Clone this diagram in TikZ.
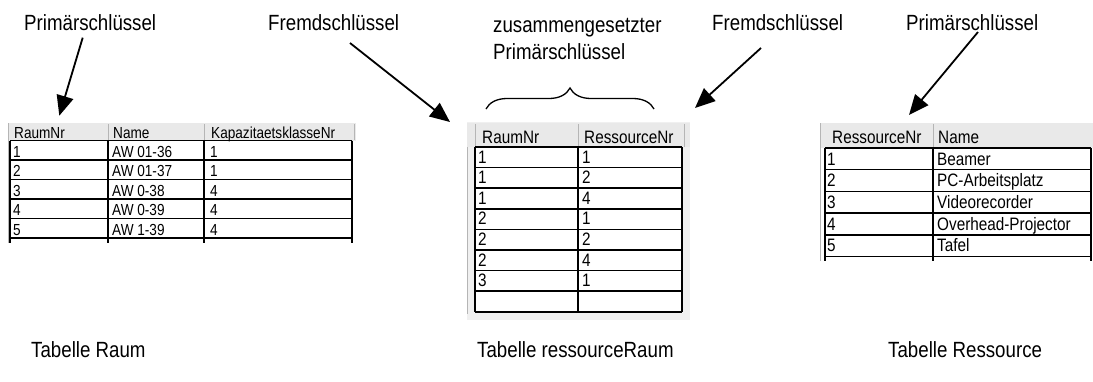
\documentclass[tikz,border=0pt]{standalone}
\usepackage{fontspec}
\setmainfont[FakeStretch=0.85]{Liberation Sans}
\usetikzlibrary{arrows.meta,decorations.pathreplacing}
\definecolor{hdrgray}{HTML}{E9E9E9}
\definecolor{panelgray}{HTML}{F0F0F0}
\definecolor{sepgray}{HTML}{B5B5B5}
\tikzset{
  lab/.style={anchor=base west, inner sep=0pt, font=\fontsize{22}{26}\selectfont},
  ctxtS/.style={anchor=base west, inner sep=0pt, font=\fontsize{16}{19}\selectfont},
  ctxtL/.style={anchor=base west, inner sep=0pt, font=\fontsize{18}{21}\selectfont},
  gridline/.style={draw=black, line width=1.5pt},
  hdrsep/.style={draw=sepgray, line width=0.8pt},
  keyarrow/.style={line width=1.8pt, -{Triangle[length=20pt,width=17pt]}},
  keybrace/.style={decorate, decoration={brace, amplitude=21pt}, line width=1.3pt},
}
\begin{document}
\begin{tikzpicture}[x=1pt,y=-1pt]
\useasboundingbox (0,0) rectangle (1093,381);

% ---------- labels ----------
\node[lab] (pk1) at (24,30) {Primärschlüssel};
\node[lab] (fk1) at (268,30) {Fremdschlüssel};
\node[lab] (cpk1) at (493,32) {zusammengesetzter};
\node[lab] (cpk2) at (493,59) {Primärschlüssel};
\node[lab] (fk2) at (712,30) {Fremdschlüssel};
\node[lab] (pk2) at (906,30) {Primärschlüssel};
\node[lab] (t1) at (31,357) {Tabelle Raum};
\node[lab] (t2) at (477,357) {Tabelle ressourceRaum};
\node[lab] (t3) at (888,357) {Tabelle Ressource};

% ---------- table Raum ----------
\fill[hdrgray] (8,123) rectangle (356,140.5);
\draw[hdrsep] (8,123) -- (8,243);
\draw[hdrsep] (108,124) -- (108,140);
\draw[hdrsep] (204,124) -- (204,140);
\draw[hdrsep] (354,124) -- (354,140);
\foreach \k in {0,...,5} \draw[gridline] (10,140.5+19.5*\k) -- (352,140.5+19.5*\k);
\foreach \xx in {10,108,204,352} \draw[gridline] (\xx,140.5) -- (\xx,243);
\node[ctxtS] (LH1) at (14,138) {RaumNr};
\node[ctxtS] (LH2) at (113,138) {Name};
\node[ctxtS] (LH3) at (211,138) {KapazitaetsklasseNr};
\foreach \i/\a/\b/\c in {1/1/AW 01-36/1, 2/2/AW 01-37/1, 3/3/AW 0-38/4, 4/4/AW 0-39/4, 5/5/AW 1-39/4}{
  \node[ctxtS] (L\i a) at (13,157+19.5*\i-19.5) {\a};
  \node[ctxtS] (L\i b) at (112,157+19.5*\i-19.5) {\b};
  \node[ctxtS] (L\i c) at (210,157+19.5*\i-19.5) {\c};
}

% ---------- table ressourceRaum ----------
\fill[panelgray] (467,122) rectangle (690,320);
\fill[hdrgray] (467,123) rectangle (690,147);
\draw[hdrsep] (475,124) -- (475,147);
\draw[hdrsep] (578,124) -- (578,147);
\draw[hdrsep] (684,124) -- (684,147);
\draw[hdrsep] (467,147) -- (467,314);
\fill[white] (475,147) rectangle (682,312);
\foreach \k in {0,...,8} \draw[gridline] (475,147+20.6*\k) -- (682,147+20.6*\k);
\foreach \xx in {475,578,682} \draw[gridline] (\xx,147) -- (\xx,311.8);
\node[ctxtL] (MH1) at (482,143) {RaumNr};
\node[ctxtL] (MH2) at (584,143) {RessourceNr};
\foreach \i/\a/\b in {1/1/1, 2/1/2, 3/1/4, 4/2/1, 5/2/2, 6/2/4, 7/3/1}{
  \node[ctxtL] (M\i a) at (478,163+20.6*\i-20.6) {\a};
  \node[ctxtL] (M\i b) at (582,163+20.6*\i-20.6) {\b};
}

% ---------- table Ressource ----------
\fill[hdrgray] (820,123) rectangle (1093,148);
\draw[hdrsep] (820,123) -- (820,261);
\draw[hdrsep] (933,124) -- (933,148);
\foreach \k in {0,...,5} \draw[gridline] (825,148+21.7*\k) -- (1091,148+21.7*\k);
\foreach \xx in {825,933,1091} \draw[gridline] (\xx,148) -- (\xx,261);
\node[ctxtL] (RH1) at (832,143) {RessourceNr};
\node[ctxtL] (RH2) at (938,143) {Name};
\foreach \i/\a/\b in {1/1/Beamer, 2/2/PC-Arbeitsplatz, 3/3/Videorecorder, 4/4/Overhead-Projector, 5/5/Tafel}{
  \node[ctxtL] (R\i a) at (827,165+21.7*\i-21.7) {\a};
  \node[ctxtL] (R\i b) at (937,165+21.7*\i-21.7) {\b};
}

% ---------- arrows ----------
\coordinate (a1s) at (82.7,37.7);  \coordinate (a1e) at (59.3,115.7);
\coordinate (a2s) at (350,43);     \coordinate (a2e) at (450,122);
\coordinate (a3s) at (761,48);     \coordinate (a3e) at (695,108);
\coordinate (a4s) at (978,32);     \coordinate (a4e) at (909,115);
\draw[keyarrow] (a1s) -- (a1e);
\draw[keyarrow] (a2s) -- (a2e);
\draw[keyarrow] (a3s) -- (a3e);
\draw[keyarrow] (a4s) -- (a4e);

% ---------- brace ----------
\coordinate (bl) at (486,109);
\coordinate (br) at (654,109);
\draw[keybrace] (bl) -- (br);
\end{tikzpicture}
\end{document}
